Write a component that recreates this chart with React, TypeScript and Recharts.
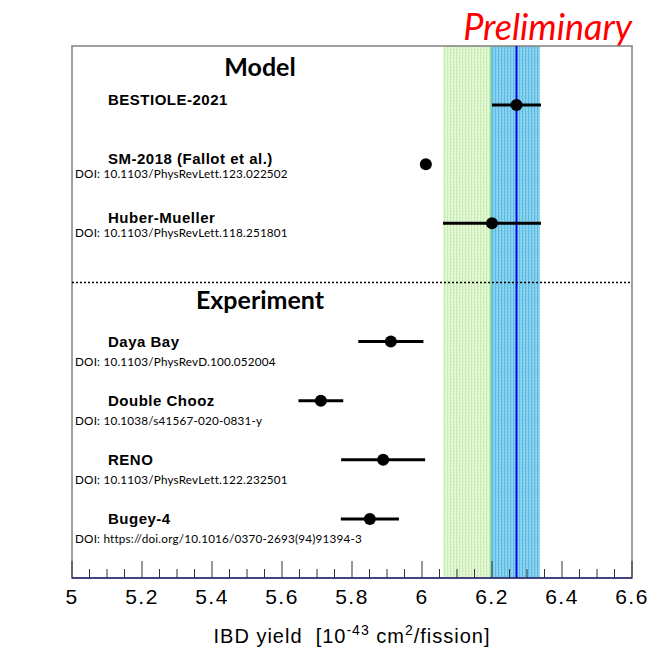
import React from "react";
import {
  ComposedChart,
  Scatter,
  ErrorBar,
  XAxis,
  YAxis,
  ReferenceArea,
  ReferenceLine,
} from "recharts";

// rows from top (model) to bottom (experiment), y in row units
const NAMES = [
  "BESTIOLE-2021",
  "SM-2018 (Fallot et al.)",
  "Huber-Mueller",
  "Daya Bay",
  "Double Chooz",
  "RENO",
  "Bugey-4",
];
const DOIS = [
  "",
  "DOI: 10.1103/PhysRevLett.123.022502",
  "DOI: 10.1103/PhysRevLett.118.251801",
  "DOI: 10.1103/PhysRevD.100.052004",
  "DOI: 10.1038/s41567-020-0831-y",
  "DOI: 10.1103/PhysRevLett.122.232501",
  "DOI: https://doi.org/10.1016/0370-2693(94)91394-3",
];
const ROWS = [8, 7, 6, 4, 3, 2, 1];
const YIELDS = [6.27, 6.011, 6.2, 5.911, 5.711, 5.889, 5.851];
const ERRORS = [0.07, 0, 0.14, 0.093, 0.064, 0.12, 0.083];

const HEADERS = ["Model", "Experiment"];
const HEADER_ROWS = [8.64, 4.7];
const DIVIDER_ROW = 5;

const GREEN_BAND = [6.06, 6.197];
const BLUE_BAND = [6.197, 6.337];
const CENTRAL = 6.27;

const XTICK_LABELS = ["5", "5.2", "5.4", "5.6", "5.8", "6", "6.2", "6.4", "6.6"];
const MINOR_STEP = 0.05;

const X_MIN = Number(XTICK_LABELS[0]);
const X_MAX = Number(XTICK_LABELS[XTICK_LABELS.length - 1]);
const xTicks: number[] = [];
for (let i = 0; X_MIN + i * MINOR_STEP <= X_MAX + 1e-9; i++) {
  xTicks.push(Math.round((X_MIN + i * MINOR_STEP) * 100) / 100);
}
const majorSet = new Set(XTICK_LABELS.map(Number));

const data = NAMES.map((name, i) => ({
  name,
  row: ROWS[i],
  yield: YIELDS[i],
  err: ERRORS[i],
}));

const XTick = (props: any) => {
  const { x, y, payload } = props;
  const major = majorSet.has(payload.value);
  return (
    <g>
      <line x1={x} x2={x} y1={y} y2={y - (major ? 17 : 9)} stroke="#333" strokeWidth={1} />
      {major && (
        <text
          x={x}
          y={y + 26}
          textAnchor="middle"
          fontFamily="Liberation Sans, Arial, sans-serif"
          fontSize={21}
          letterSpacing={1.5}
          fill="#000"
        >
          {String(payload.value)}
        </text>
      )}
    </g>
  );
};

const YTick = (props: any) => {
  const { x, y, payload } = props;
  const h = HEADER_ROWS.indexOf(payload.value);
  if (h >= 0) {
    return (
      <text
        x={x + 188}
        y={y}
        dy={9}
        textAnchor="middle"
        fontFamily="Lato, sans-serif"
        fontWeight="bold"
        fontSize={25}
        fill="#000"
      >
        {HEADERS[h]}
      </text>
    );
  }
  const i = ROWS.indexOf(payload.value);
  if (i < 0) return null;
  // model rows sit a little higher than the experiment rows
  const isModel = payload.value > DIVIDER_ROW;
  return (
    <g>
      <text
        x={x + 36}
        y={y}
        dy={isModel ? 0 : 5.5}
        fontFamily="Liberation Sans, Arial, sans-serif"
        fontWeight="bold"
        fontSize={15}
        letterSpacing={0.5}
        fill="#000"
      >
        {NAMES[i]}
      </text>
      {DOIS[i] && (
        <text
          x={x + 3}
          y={y}
          dy={isModel ? 14 : 24}
          fontFamily="Lato, sans-serif"
          fontSize={11.7}
          letterSpacing={0.2}
          fill="#000"
        >
          {DOIS[i]}
        </text>
      )}
    </g>
  );
};

const AxisTitle = (props: any) => {
  const { viewBox } = props;
  const cx = viewBox.x + viewBox.width / 2;
  const y = viewBox.y + 65;
  return (
    <text
      x={cx}
      y={y}
      textAnchor="middle"
      fontFamily="Liberation Sans, Arial, sans-serif"
      fontSize={20}
      letterSpacing={1}
      fill="#000"
    >
      {"IBD yield\u00a0 [10"}
      <tspan dy={-8} fontSize={14}>-43</tspan>
      <tspan dy={8}> cm</tspan>
      <tspan dy={-8} fontSize={14}>2</tspan>
      <tspan dy={8}>/fission]</tspan>
    </text>
  );
};

const Dot = (props: any) => {
  const { cx, cy } = props;
  return <circle cx={cx} cy={cy} r={6} fill="#000" />;
};

export default function App() {
  return (
    <div style={{ position: "relative", width: 657, height: 649, marginLeft: -8, marginTop: -8, background: "#fff" }}>
      <div
        style={{
          position: "absolute",
          right: 25,
          top: 6,
          color: "#ff0000",
          fontFamily: "Lato, sans-serif",
          fontStyle: "italic",
          fontSize: 36,
          lineHeight: "40px",
        }}
      >
        Preliminary
      </div>
      <div style={{ position: "absolute", left: 653, top: 46, width: 5, height: 1, background: "#666" }} />
      <div style={{ position: "absolute", left: 653, top: 282, width: 5, height: 1, background: "#666" }} />
      <ComposedChart
        width={657}
        height={649}
        data={data}
        margin={{ top: 46, right: 25, bottom: 21, left: 71 }}
      >
        <defs>
          <pattern id="greenHatch" width="3" height="3" patternUnits="userSpaceOnUse">
            <rect width="3" height="3" fill="#e6f7db" />
            <rect x="0" y="0" width="1" height="3" fill="#c6ecae" />
            <rect x="1" y="1" width="1" height="1" fill="#d0efbb" />
          </pattern>
          <pattern id="blueHatch" width="3" height="3" patternUnits="userSpaceOnUse">
            <rect width="3" height="3" fill="#82d0ee" />
            <rect x="0" y="0" width="1" height="3" fill="#5cb9e0" />
            <rect x="2" y="1" width="1" height="1" fill="#a0daf0" />
          </pattern>
        </defs>
        <XAxis
          type="number"
          dataKey="yield"
          domain={[X_MIN, X_MAX]}
          ticks={xTicks}
          interval={0}
          tick={<XTick />}
          tickLine={false}
          tickSize={0}
          tickMargin={0}
          height={50}
          axisLine={{ stroke: "#26267a", strokeWidth: 1.5 }}
          allowDataOverflow
          label={<AxisTitle />}
        />
        <YAxis
          type="number"
          dataKey="row"
          domain={[0, 9]}
          ticks={[...HEADER_ROWS, ...ROWS]}
          interval={0}
          tick={<YTick />}
          tickLine={false}
          tickSize={0}
          tickMargin={0}
          axisLine={false}
          width={1}
          allowDataOverflow
        />
        <ReferenceArea x1={GREEN_BAND[0]} x2={GREEN_BAND[1]} y1={0} y2={9} fill="url(#greenHatch)" fillOpacity={1} stroke="none" />
        <ReferenceArea x1={BLUE_BAND[0]} x2={BLUE_BAND[1]} y1={0} y2={9} fill="url(#blueHatch)" fillOpacity={1} stroke="none" />
        <ReferenceLine x={BLUE_BAND[0]} stroke="#5cc88a" strokeWidth={1} />
        <ReferenceLine x={CENTRAL} stroke="#0000ee" strokeWidth={2} />
        <ReferenceLine y={DIVIDER_ROW} stroke="#000" strokeWidth={1.5} strokeDasharray="2 2" />
        <ReferenceArea x1={X_MIN} x2={X_MAX} y1={0} y2={9} fill="none" stroke="#808080" strokeWidth={1.5} />
        <Scatter dataKey="row" shape={<Dot />} isAnimationActive={false}>
          <ErrorBar dataKey="err" direction="x" width={0} stroke="#000" strokeWidth={3} />
        </Scatter>
      </ComposedChart>
    </div>
  );
}
